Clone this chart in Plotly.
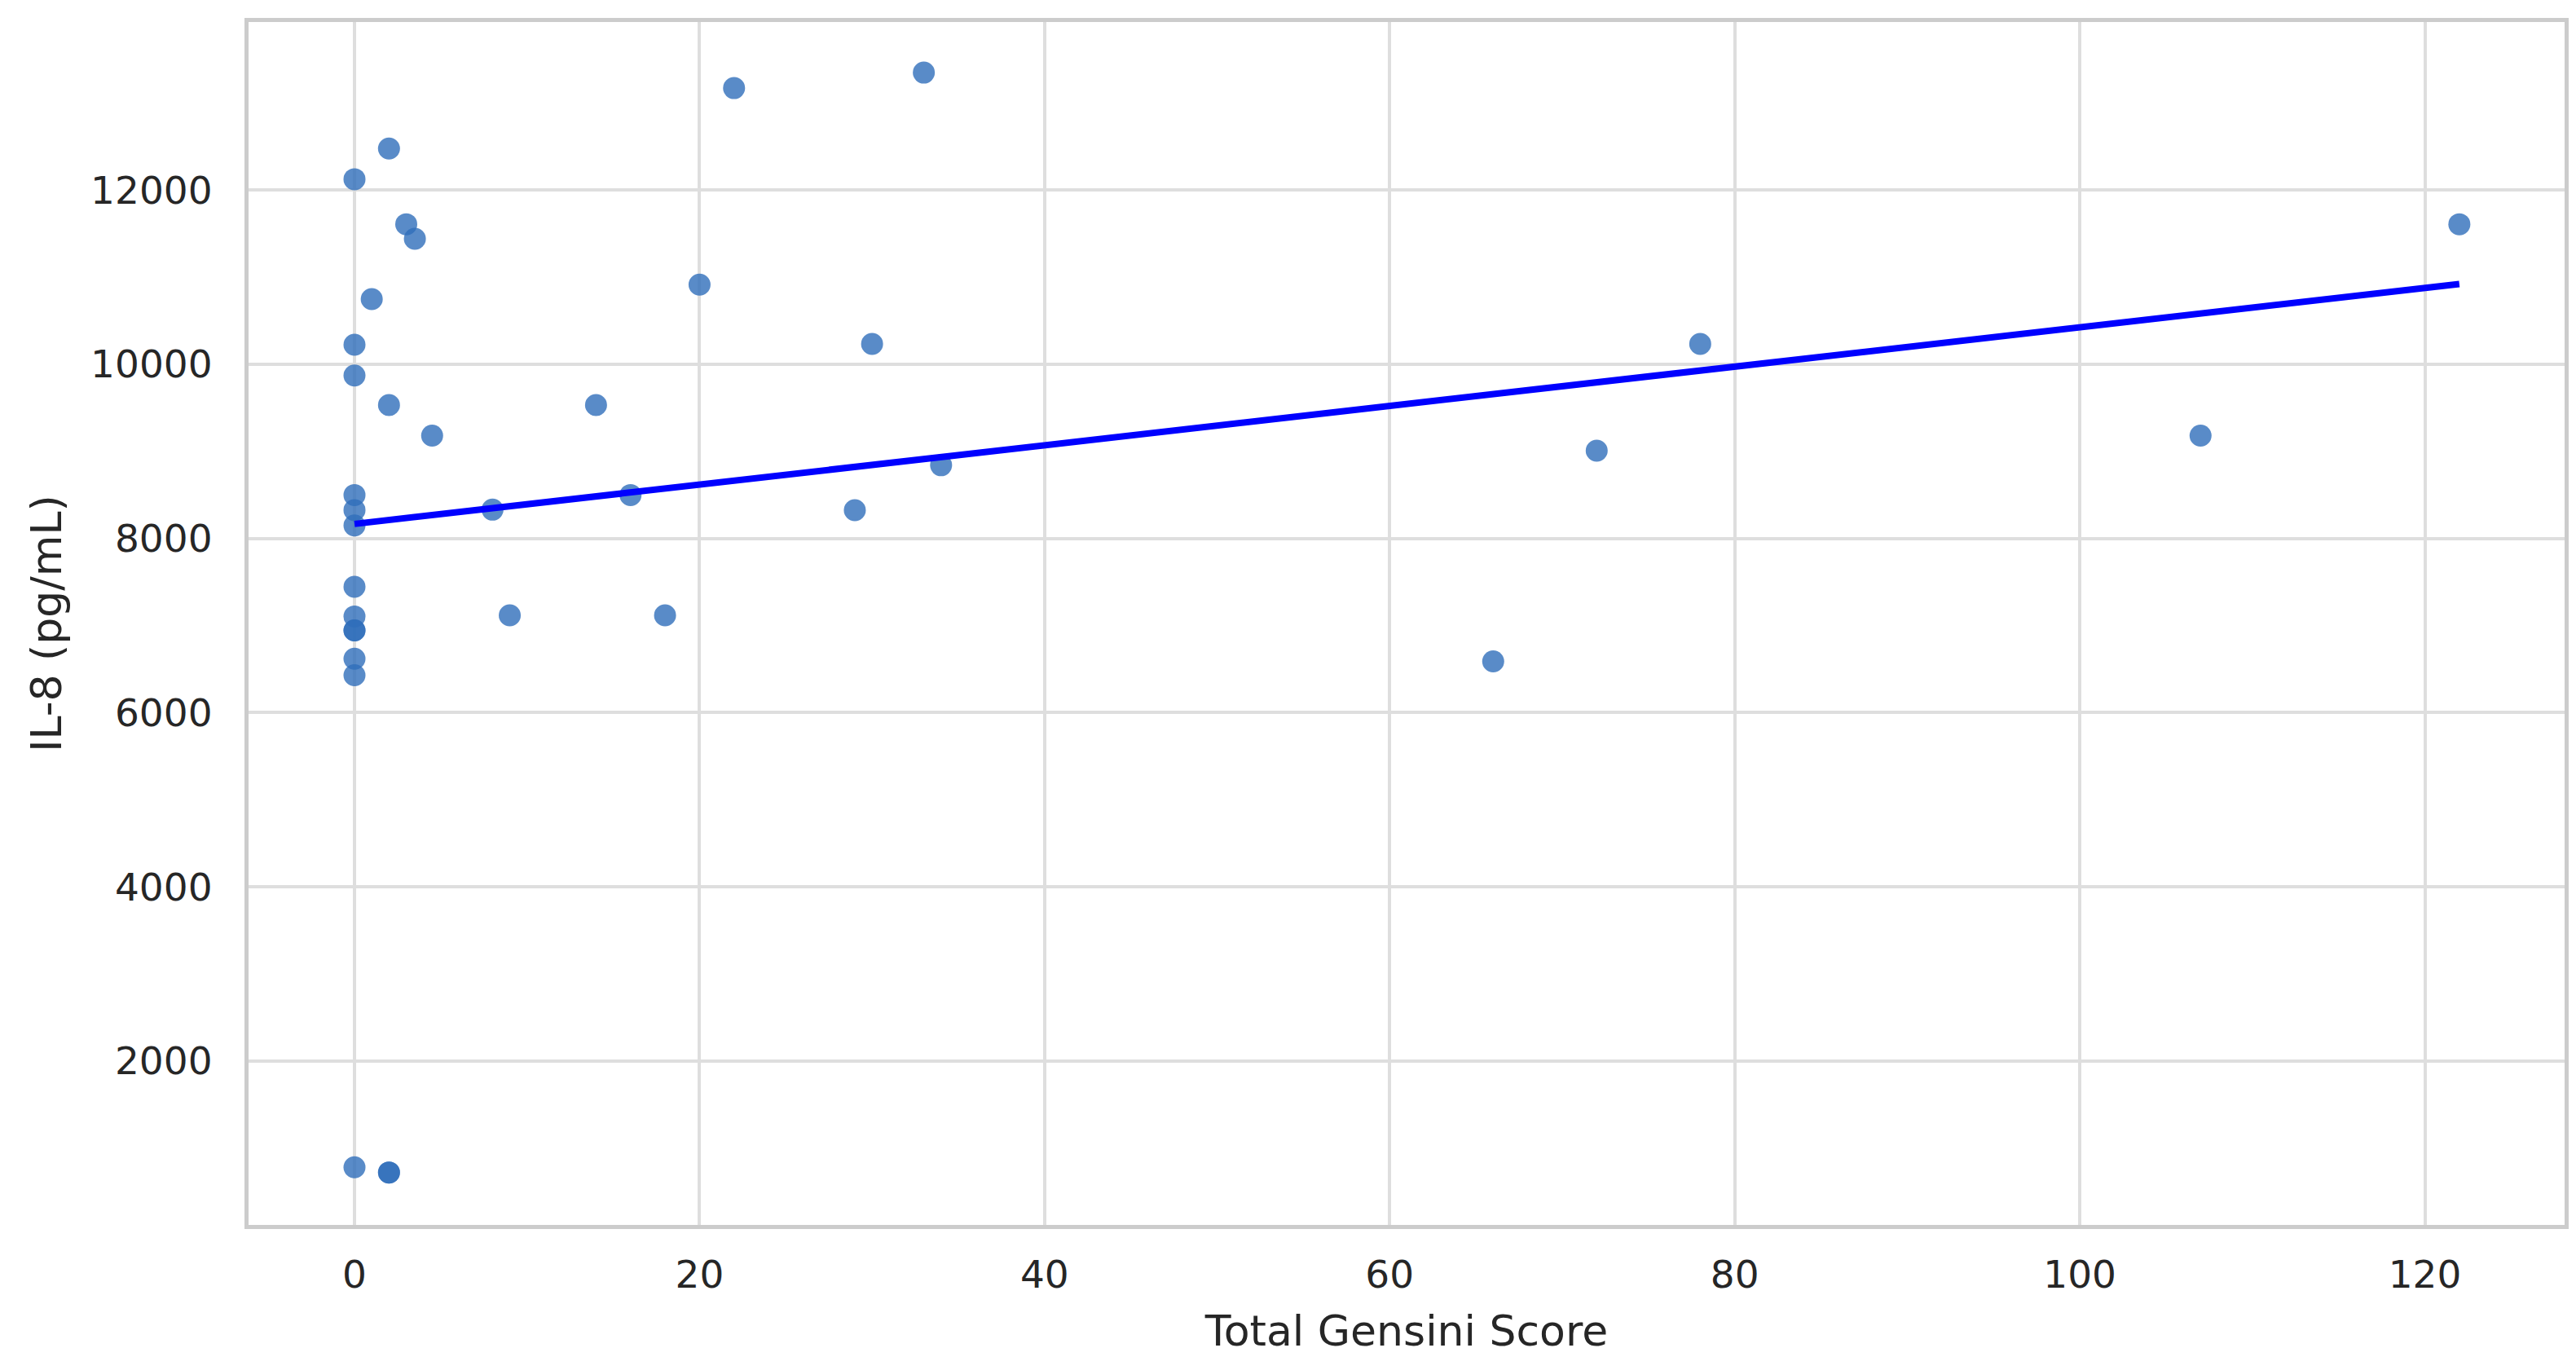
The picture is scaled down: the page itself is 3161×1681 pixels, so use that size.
import numpy as np
import plotly.graph_objects as go

# Total Gensini Score (x) and IL-8 (pg/mL) (y)
gensini = [0, 2, 3, 3.5, 1, 0, 0, 2, 4.5, 0, 0, 0, 8, 0, 0, 0, 0, 0, 0,
           9, 14, 16, 18, 20, 22, 29, 30, 33, 34, 66, 72, 78, 107, 122, 0, 2, 2]
il8 = [12125, 12478, 11608, 11441, 10748, 10225, 9871, 9532, 9182, 8499, 8326, 8149,
       8331, 7446, 7105, 6945, 6945, 6620, 6430, 7118, 9532, 8499, 7118, 10915, 13171,
       8325, 10234, 13349, 8841, 6589, 9008, 10234, 9182, 11608, 781, 721, 721]

x_ticks = [0, 20, 40, 60, 80, 100, 120]
x_tick_labels = ["0", "20", "40", "60", "80", "100", "120"]
y_ticks = [2000, 4000, 6000, 8000, 10000, 12000]
y_tick_labels = ["2000", "4000", "6000", "8000", "10000", "12000"]

x_arr = np.array(gensini, dtype=float)
y_arr = np.array(il8, dtype=float)
slope, intercept = np.polyfit(x_arr, y_arr, 1)
fit_x = np.array([x_arr.min(), x_arr.max()])
fit_y = intercept + slope * fit_x

FONT = "DejaVu Sans"
TXT = "#262626"

fig = go.Figure()
fig.add_trace(go.Scatter(
    x=gensini, y=il8, mode="markers",
    marker=dict(size=27, color="rgba(48,110,186,0.8)", line=dict(width=0)),
    showlegend=False, hoverinfo="x+y",
))
fig.add_trace(go.Scatter(
    x=fit_x, y=fit_y, mode="lines",
    line=dict(color="#0000ff", width=8),
    showlegend=False, hoverinfo="skip",
))

axis_common = dict(
    showgrid=True, gridcolor="#dedede", gridwidth=4,
    zeroline=False,
    showline=True, linecolor="#cccccc", linewidth=5, mirror=True,
    ticks="", tickfont=dict(family=FONT, size=47, color=TXT),
    automargin=False,
)

fig.update_layout(
    width=3161, height=1681,
    margin=dict(l=297, r=22, t=19, b=186, pad=0),
    paper_bgcolor="white", plot_bgcolor="white",
    font=dict(family=FONT, color=TXT),
    xaxis=dict(
        range=[-6.14, 128.1], tickmode="array", tickvals=x_ticks, ticktext=x_tick_labels,
        ticklabelstandoff=16,
        title=dict(text="Total Gensini Score", font=dict(family=FONT, size=52, color=TXT), standoff=26),
        **axis_common,
    ),
    yaxis=dict(
        range=[119, 13930], tickmode="array", tickvals=y_ticks, ticktext=y_tick_labels,
        ticklabelstandoff=30,
        title=dict(text="IL-8 (pg/mL)", font=dict(family=FONT, size=52, color=TXT), standoff=20),
        **axis_common,
    ),
)

fig.write_html("out.html")
